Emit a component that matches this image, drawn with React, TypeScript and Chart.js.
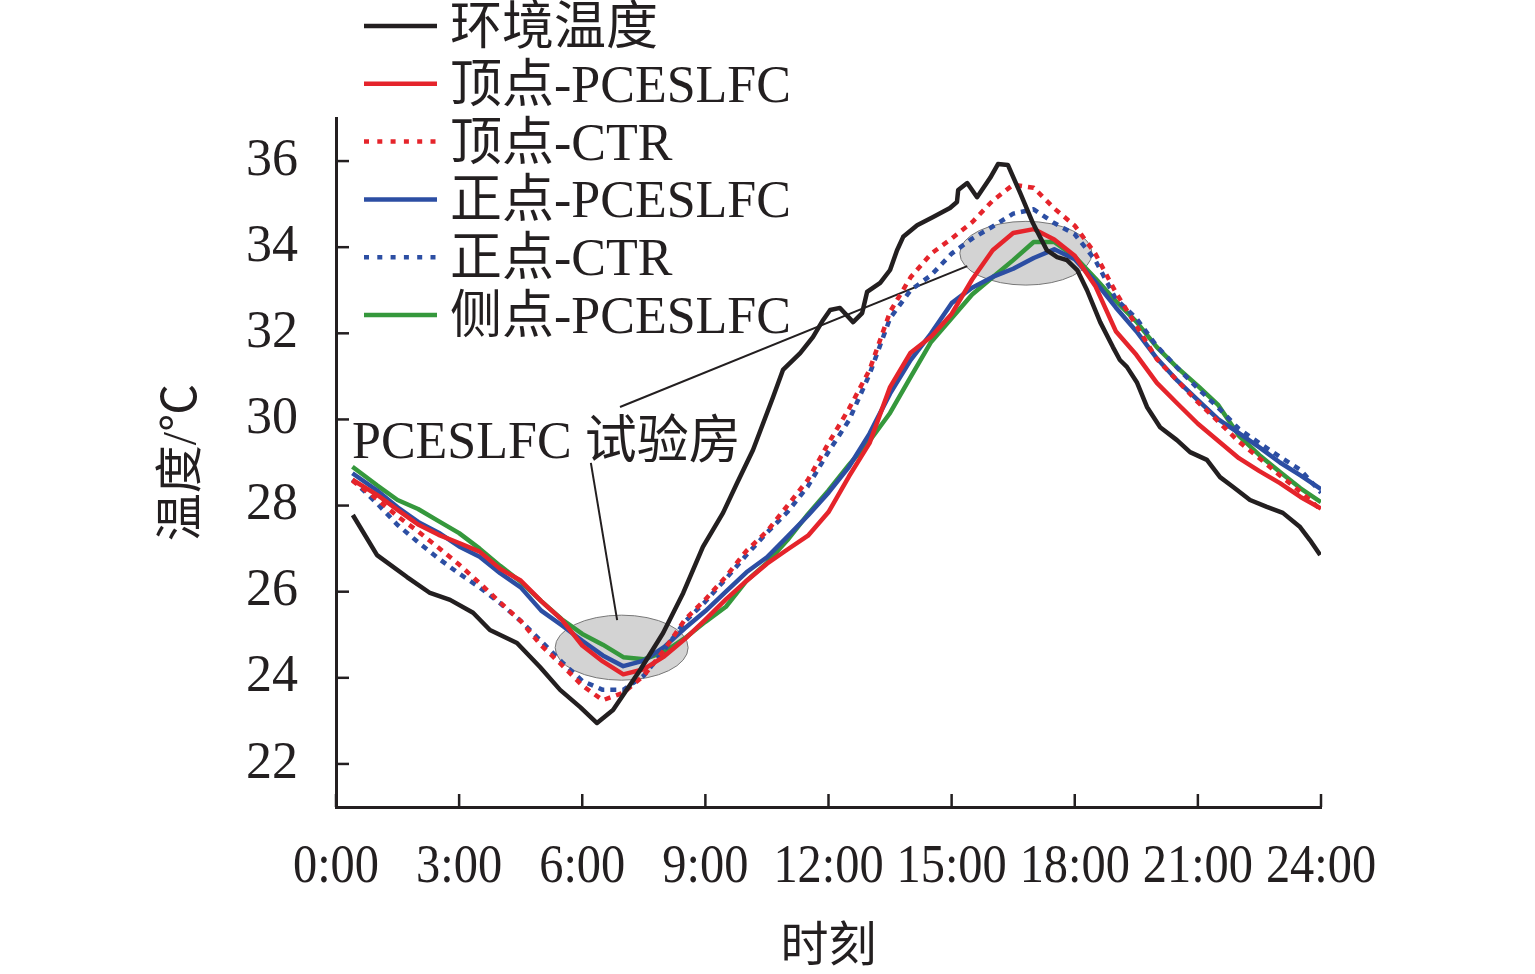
import React, { useEffect, useRef } from "react";
import { Chart, registerables } from "chart.js";

Chart.register(...registerables);

// ---------- data ----------
const hours = [
  0.4, 1, 1.5, 2, 2.5, 3, 3.5, 4, 4.5, 5, 5.5, 6, 6.5, 7, 7.5, 8, 8.5, 9, 9.5, 10,
  10.5, 11, 11.5, 12, 12.5, 13, 13.5, 14, 14.5, 15, 15.5, 16, 16.5, 17, 17.5, 18,
  18.5, 19, 19.5, 20, 20.5, 21, 21.5, 22, 22.5, 23, 23.5, 24,
];

const ambientHours = [
  0.41, 1.0, 1.73, 2.29, 2.78, 3.34, 3.75, 4.41, 4.97, 5.46, 5.95, 6.36, 6.75, 7.41,
  7.97, 8.46, 8.94, 9.43, 9.77, 10.16, 10.65, 10.89, 11.31, 11.62, 11.87, 12.04,
  12.28, 12.6, 12.82, 12.94, 13.26, 13.5, 13.67, 13.82, 14.16, 14.55, 14.96, 15.13,
  15.16, 15.38, 15.62, 15.94, 16.13, 16.37, 16.67, 16.98, 17.32, 17.57, 17.81,
  18.06, 18.3, 18.62, 18.93, 19.1, 19.27, 19.52, 19.76, 20.08, 20.49, 20.81, 21.22,
  21.54, 21.86, 22.27, 22.68, 23.07, 23.49, 23.73, 23.98,
];
const ambientTemp = [
  27.78, 26.85, 26.34, 25.97, 25.81, 25.51, 25.11, 24.81, 24.25, 23.72, 23.32, 22.95,
  23.25, 24.18, 25.04, 25.97, 27.04, 27.83, 28.52, 29.29, 30.52, 31.15, 31.54, 31.91,
  32.31, 32.54, 32.59, 32.26, 32.47, 32.96, 33.17, 33.47, 33.93, 34.24, 34.51, 34.7,
  34.91, 35.05, 35.33, 35.49, 35.16, 35.61, 35.93, 35.91, 35.26, 34.56, 33.93, 33.77,
  33.7, 33.47, 33.0, 32.26, 31.68, 31.38, 31.22, 30.85, 30.29, 29.82, 29.52, 29.24,
  29.06, 28.66, 28.43, 28.13, 27.97, 27.83, 27.5, 27.2, 26.85,
];

const topPCESLFC = [
  28.6, 28.25, 27.9, 27.56, 27.32, 27.13, 26.93, 26.53, 26.26, 25.78, 25.35, 24.75,
  24.38, 24.08, 24.2, 24.5, 24.9, 25.35, 25.82, 26.25, 26.65, 26.98, 27.3, 27.85,
  28.68, 29.45, 30.75, 31.55, 31.92, 32.45, 33.25, 33.93, 34.33, 34.42, 34.18, 33.8,
  33.1, 32.05, 31.5, 30.85, 30.37, 29.9, 29.5, 29.1, 28.8, 28.52, 28.2, 27.93,
];
const topCTR = [
  28.58, 28.15, 27.75, 27.4, 27.02, 26.63, 26.2, 25.75, 25.32, 24.75, 24.3, 23.82,
  23.48, 23.65, 24.05, 24.65, 25.35, 25.82, 26.35, 26.95, 27.4, 28.0, 28.6, 29.45,
  30.25, 31.15, 32.5, 33.3, 33.85, 34.2, 34.58, 35.08, 35.45, 35.38, 34.9, 34.5,
  33.85, 32.95, 32.18, 31.4, 30.9, 30.4, 29.95, 29.48, 29.1, 28.7, 28.32, 27.9,
];
const frontPCESLFC = [
  28.75, 28.35, 27.96, 27.62, 27.37, 27.05, 26.81, 26.43, 26.1, 25.56, 25.22, 24.86,
  24.52, 24.27, 24.4, 24.72, 25.15, 25.55, 26.0, 26.45, 26.8, 27.28, 27.77, 28.3,
  28.9, 29.67, 30.6, 31.38, 32.0, 32.7, 33.06, 33.31, 33.5, 33.75, 33.95, 33.72,
  33.2, 32.6, 32.05, 31.42, 30.9, 30.45, 30.0, 29.68, 29.35, 29.0, 28.7, 28.38,
];
const frontCTR = [
  28.6, 28.05, 27.55, 27.15, 26.77, 26.42, 26.1, 25.73, 25.32, 24.85, 24.37, 23.93,
  23.72, 23.72, 24.05, 24.65, 25.3, 25.77, 26.3, 26.85, 27.37, 27.85, 28.45, 29.25,
  29.98, 31.05, 32.35, 33.0, 33.35, 33.85, 34.2, 34.48, 34.78, 34.88, 34.56, 34.3,
  33.7, 32.8, 32.35, 31.7, 31.2, 30.72, 30.27, 29.78, 29.45, 29.13, 28.83, 28.3,
];
const sidePCESLFC = [
  28.9, 28.47, 28.13, 27.92, 27.64, 27.36, 27.0, 26.6, 26.23, 25.78, 25.36, 25.02,
  24.77, 24.48, 24.43, 24.6, 24.92, 25.3, 25.65, 26.25, 26.67, 27.2, 27.8, 28.35,
  28.95, 29.5, 30.15, 30.98, 31.8, 32.35, 32.9, 33.3, 33.7, 34.12, 34.12, 33.78,
  33.28, 32.75, 32.27, 31.68, 31.2, 30.78, 30.33, 29.62, 29.17, 28.78, 28.4, 28.08,
];

const seriesLabels = [
  "环境温度",
  "顶点-PCESLFC",
  "顶点-CTR",
  "正点-PCESLFC",
  "正点-CTR",
  "侧点-PCESLFC",
];

const xTickHours = [0, 3, 6, 9, 12, 15, 18, 21, 24];
const yTickValues = [22, 24, 26, 28, 30, 32, 34, 36];
const xTitle = "时刻";
const yTitle = "温度/℃";
const noteText = "PCESLFC 试验房";

// annotation geometry in data units (hours, °C)
const noteAnchor = { x: 0.39, y: 29.1 };
const highlightEllipses = [
  { cx: 6.96, cy: 24.7, rx: 1.62, ry: 0.755 },
  { cx: 16.81, cy: 33.86, rx: 1.61, ry: 0.74 },
];
const leaderLines = [
  { x1: 6.85, y1: 25.34, x2: 6.21, y2: 28.99 },
  { x1: 6.92, y1: 30.29, x2: 15.38, y2: 33.56 },
];

// ---------- style ----------
const BLACK = "#231f20";
const RED = "#e5242b";
const BLUE = "#2c4ea3";
const GREEN = "#35983c";
const SERIF = '"Liberation Serif", "Noto Sans CJK SC", serif';
const PLOT_DASH = [6, 6];
const LEGEND_DASH = [5, 8.3];

const pts = (xs: number[], ys: number[]) => xs.map((x, i) => ({ x, y: ys[i] }));

const decorPlugin = {
  id: "decor",
  beforeDatasetsDraw(chart: any) {
    const { ctx } = chart;
    const xs = chart.scales.x;
    const ys = chart.scales.y;
    ctx.save();
    highlightEllipses.forEach((e) => {
      const cx = xs.getPixelForValue(e.cx);
      const cy = ys.getPixelForValue(e.cy);
      const rx = Math.abs(xs.getPixelForValue(e.cx + e.rx) - cx);
      const ry = Math.abs(ys.getPixelForValue(e.cy + e.ry) - cy);
      ctx.beginPath();
      ctx.ellipse(cx, cy, rx, ry, 0, 0, Math.PI * 2);
      ctx.fillStyle = "#d3d3d3";
      ctx.fill();
      ctx.lineWidth = 1;
      ctx.strokeStyle = "#777777";
      ctx.stroke();
    });
    ctx.strokeStyle = BLACK;
    ctx.lineWidth = 2;
    leaderLines.forEach((l) => {
      ctx.beginPath();
      ctx.moveTo(xs.getPixelForValue(l.x1), ys.getPixelForValue(l.y1));
      ctx.lineTo(xs.getPixelForValue(l.x2), ys.getPixelForValue(l.y2));
      ctx.stroke();
    });
    ctx.fillStyle = BLACK;
    ctx.font = `52px ${SERIF}`;
    ctx.textAlign = "left";
    ctx.textBaseline = "alphabetic";
    ctx.fillText(noteText, xs.getPixelForValue(noteAnchor.x), ys.getPixelForValue(noteAnchor.y));
    ctx.restore();
  },
  afterDraw(chart: any) {
    const { ctx, chartArea } = chart;
    const xs = chart.scales.x;
    const ys = chart.scales.y;
    ctx.save();
    // inward tick marks
    ctx.strokeStyle = BLACK;
    ctx.lineWidth = 2.5;
    yTickValues.forEach((v) => {
      const y = ys.getPixelForValue(v);
      ctx.beginPath();
      ctx.moveTo(chartArea.left, y);
      ctx.lineTo(chartArea.left + 13, y);
      ctx.stroke();
    });
    xTickHours.forEach((h) => {
      const x = xs.getPixelForValue(h);
      ctx.beginPath();
      ctx.moveTo(x, chartArea.bottom);
      ctx.lineTo(x, chartArea.bottom - 13);
      ctx.stroke();
    });
    // x tick labels (condensed serif)
    ctx.fillStyle = BLACK;
    ctx.font = `55px ${SERIF}`;
    ctx.textAlign = "center";
    ctx.textBaseline = "alphabetic";
    xTickHours.forEach((h) => {
      const x = xs.getPixelForValue(h);
      ctx.save();
      ctx.translate(x, chartArea.bottom + 75);
      ctx.scale(0.88, 1);
      ctx.fillText(`${h}:00`, 0, 0);
      ctx.restore();
    });
    // axis titles
    ctx.font = `48px ${SERIF}`;
    ctx.textBaseline = "middle";
    ctx.fillText(xTitle, (chartArea.left + chartArea.right) / 2, chartArea.bottom + 141);
    ctx.save();
    ctx.translate(183, (chartArea.top + chartArea.bottom) / 2);
    ctx.rotate(-Math.PI / 2);
    ctx.fillText(yTitle, 0, 0);
    ctx.restore();
    // legend
    chart.data.datasets.forEach((ds: any, i: number) => {
      const y = 26 + i * 57.8;
      ctx.beginPath();
      ctx.strokeStyle = ds.borderColor;
      ctx.lineWidth = 4.5;
      ctx.setLineDash(ds.borderDash && ds.borderDash.length ? LEGEND_DASH : []);
      ctx.moveTo(364, y);
      ctx.lineTo(437, y);
      ctx.stroke();
      ctx.setLineDash([]);
      ctx.fillStyle = BLACK;
      ctx.font = `52px ${SERIF}`;
      ctx.textAlign = "left";
      ctx.textBaseline = "alphabetic";
      ctx.fillText(ds.label, 450, y + 18);
    });
    ctx.restore();
  },
};

export default function App() {
  const canvasRef = useRef<HTMLCanvasElement | null>(null);

  useEffect(() => {
    if (!canvasRef.current) return;
    const mk = (label: string, data: any[], color: string, dashed: boolean) => ({
      label,
      data,
      borderColor: color,
      backgroundColor: color,
      borderWidth: 4.5,
      borderDash: dashed ? PLOT_DASH : [],
      borderJoinStyle: "round",
      pointRadius: 0,
      tension: 0,
      fill: false,
    });
    const chart = new Chart(canvasRef.current, {
      type: "line",
      data: {
        datasets: [
          mk(seriesLabels[0], pts(ambientHours, ambientTemp), BLACK, false),
          mk(seriesLabels[1], pts(hours, topPCESLFC), RED, false),
          mk(seriesLabels[2], pts(hours, topCTR), RED, true),
          mk(seriesLabels[3], pts(hours, frontPCESLFC), BLUE, false),
          mk(seriesLabels[4], pts(hours, frontCTR), BLUE, true),
          mk(seriesLabels[5], pts(hours, sidePCESLFC), GREEN, false),
        ],
      },
      options: {
        animation: false,
        responsive: false,
        devicePixelRatio: 1,
        layout: { padding: { top: 118, right: 214, left: 0, bottom: 0 } },
        plugins: {
          legend: { display: false },
          tooltip: { enabled: false },
        },
        scales: {
          x: {
            type: "linear",
            min: 0,
            max: 24,
            grid: { display: false, drawTicks: false },
            border: { display: true, color: BLACK, width: 3 },
            ticks: { display: false },
            afterBuildTicks: (s: any) => {
              s.ticks = xTickHours.map((v) => ({ value: v }));
            },
            afterFit: (s: any) => {
              s.height = 167;
            },
          },
          y: {
            type: "linear",
            min: 21,
            max: 37,
            grid: { display: false, drawTicks: false },
            border: { display: true, color: BLACK, width: 3 },
            ticks: {
              color: BLACK,
              padding: 38,
              font: { family: SERIF, size: 52 },
            },
            afterBuildTicks: (s: any) => {
              s.ticks = yTickValues.map((v) => ({ value: v }));
            },
            afterFit: (s: any) => {
              s.width = 336;
            },
          },
        },
      } as any,
      plugins: [decorPlugin],
    });
    return () => chart.destroy();
  }, []);

  return (
    <div style={{ position: "absolute", left: 0, top: 0, width: 1535, height: 974, background: "#fff" }}>
      <canvas ref={canvasRef} width={1535} height={974} style={{ display: "block" }} />
    </div>
  );
}
